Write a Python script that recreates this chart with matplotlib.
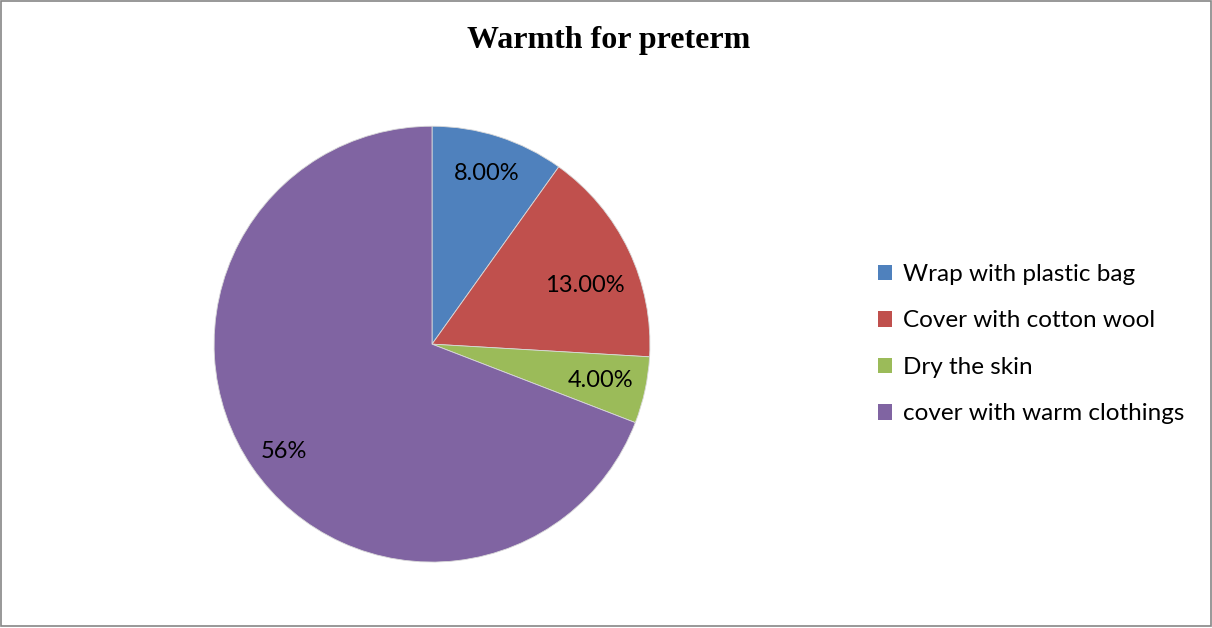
import matplotlib
matplotlib.use("Agg")
import matplotlib.pyplot as plt
from matplotlib.patches import Patch, Rectangle
import numpy as np

categories = ["Wrap with plastic bag", "Cover with cotton wool",
              "Dry the skin", "cover with warm clothings"]
values = [8, 13, 4, 56]
value_labels = ["8.00%", "13.00%", "4.00%", "56%"]
colors = ["#4F81BD", "#C0504D", "#9BBB59", "#8064A2"]

fig = plt.figure(figsize=(12.12, 6.28), dpi=100)
fig.patch.set_facecolor("white")

ax = fig.add_axes([0.1766, 0.105, 0.3597, 0.694])
wedges, _ = ax.pie(values, colors=colors, startangle=90, counterclock=False,
                   wedgeprops=dict(edgecolor="#d9d9d9", linewidth=0.6))
ax.set_xlim(-1, 1)
ax.set_ylim(-1, 1)
ax.set_aspect("equal")

dists = [0.82, 0.75, 0.79, 0.84]
shifts = [0, -4.7, 0, 1.5]
for w, lab, d, s in zip(wedges, value_labels, dists, shifts):
    mid = np.deg2rad((w.theta1 + w.theta2) / 2 + s)
    ax.text(d * np.cos(mid), d * np.sin(mid), lab, ha="center", va="center",
            fontsize=17, family="Lato", color="black")

fig.text(0.502, 0.936, "Warmth for preterm", ha="center", va="center",
         fontsize=23, fontweight="bold", family="Liberation Serif")

handles = [Patch(facecolor=c, edgecolor="none") for c in colors]
leg = fig.legend(handles, categories, loc="center left",
                 bbox_to_anchor=(0.716, 0.452), frameon=False,
                 prop=dict(family="Lato", size=17.5),
                 handlelength=0.6, handleheight=0.6, handletextpad=0.45,
                 labelspacing=1.05, borderaxespad=0)

fig.add_artist(Rectangle((0.001, 0.003), 0.998, 0.996, transform=fig.transFigure,
                         fill=False, edgecolor="#868686", linewidth=1.2))

plt.savefig("out.png", dpi=100)
